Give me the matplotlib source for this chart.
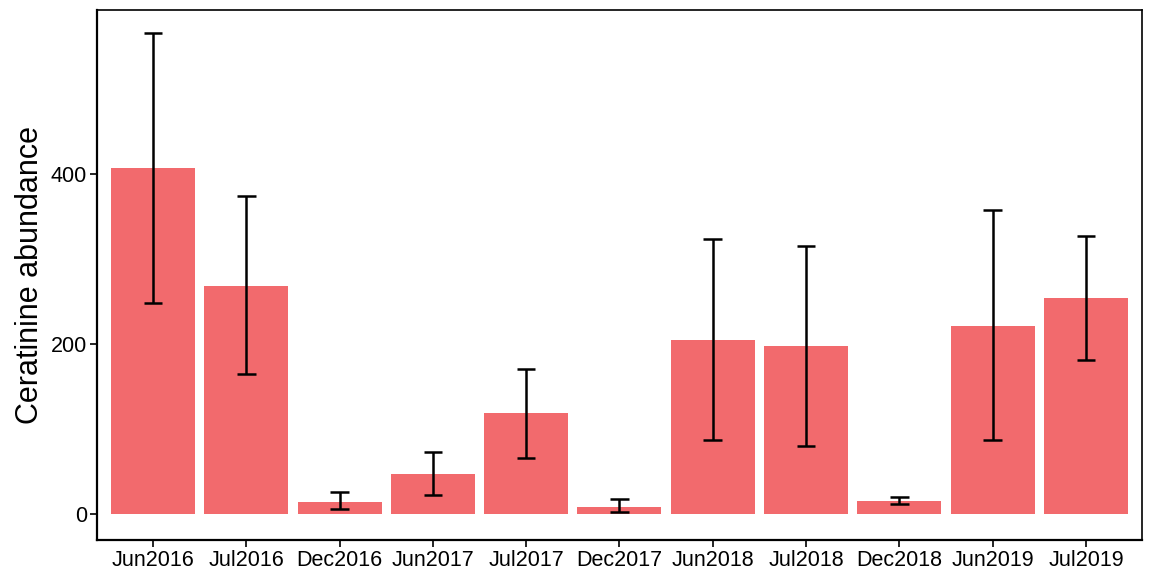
import numpy as np
import matplotlib
matplotlib.use("Agg")
import matplotlib.pyplot as plt

plt.rcParams['font.family'] = ['Liberation Sans', 'DejaVu Sans']

# data
months = ['Jun2016', 'Jul2016', 'Dec2016', 'Jun2017', 'Jul2017', 'Dec2017',
          'Jun2018', 'Jul2018', 'Dec2018', 'Jun2019', 'Jul2019']
abundance = [407, 269, 15, 48, 119, 9, 205, 198, 16, 222, 254]
err_high = [566, 374, 26, 74, 171, 18, 324, 316, 21, 358, 327]
err_low = [249, 165, 6, 23, 66, 3.5, 87, 80, 12, 88, 182]

fig = plt.figure(figsize=(11.5, 5.7), dpi=100)
ax = fig.add_axes([0.0843, 0.0526, 0.9087, 0.93])

x = np.arange(1, len(months) + 1)
ax.bar(x, abundance, width=0.9, color='#F26A6D', zorder=1)
ax.vlines(x, err_low, err_high, color='black', linewidth=1.8, zorder=2)
cap = 0.1
ax.hlines(err_high, x - cap, x + cap, color='black', linewidth=1.8, zorder=2)
ax.hlines(err_low, x - cap, x + cap, color='black', linewidth=1.8, zorder=2)

ax.set_xlim(0.4, len(months) + 0.6)
ax.set_ylim(-30, 593)
ax.set_xticks(x)
ax.set_xticklabels(months)
ax.set_yticks([0, 200, 400])
ax.set_ylabel('Ceratinine abundance', fontsize=22, labelpad=4)
ax.tick_params(axis='both', labelsize=15.5, length=5, width=1.2, color='black',
               labelcolor='black', pad=2)

for side in ['left', 'bottom']:
    ax.spines[side].set_linewidth(1.6)
for side in ['top', 'right']:
    ax.spines[side].set_linewidth(1.2)

fig.savefig('out.png', dpi=100)
